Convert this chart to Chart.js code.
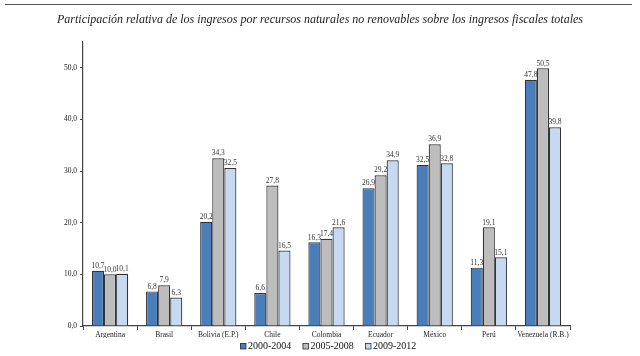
<!DOCTYPE html>
<html><head><meta charset="utf-8">
<script src="https://cdn.jsdelivr.net/npm/chart.js@4/dist/chart.umd.min.js"></script>
<style>html,body{margin:0;padding:0;background:#fff}#w{width:640px;height:356px;position:relative}</style>
</head><body><div id="w"><canvas id="c"></canvas></div>
<script>
const categories = ["Argentina","Brasil","Bolivia (E.P.)","Chile","Colombia","Ecuador","México","Perú","Venezuela (R.B.)"];
const seriesNames = ["2000-2004","2005-2008","2009-2012"];
// bar heights as drawn
const values2000 = [10.7, 6.7, 20.2, 6.4, 16.2, 26.7, 31.2, 11.3, 47.7];
const values2005 = [10.0, 7.9, 32.5, 27.2, 16.9, 29.2, 35.2, 19.1, 49.9];
const values2009 = [10.1, 5.5, 30.6, 14.6, 19.1, 32.1, 31.5, 13.3, 38.5];
// printed labels
const labels2000 = ["10,7","6,8","20,2","6,6","16,3","26,9","32,5","11,3","47,8"];
const labels2005 = ["10,0","7,9","34,3","27,8","17,4","29,2","36,9","19,1","50,5"];
const labels2009 = ["10,1","6,3","32,5","16,5","21,6","34,9","32,8","15,1","39,8"];
const yTicks = [0,10,20,30,40,50];
const title = "Participación relativa de los ingresos por recursos naturales no renovables sobre los ingresos fiscales totales";

const colors = ["#4A7EBB","#BDBDBD","#C6D9F1"];
const allLabels = [labels2000, labels2005, labels2009];
const SERIF = '"Liberation Serif", serif';

const deco = {
  id:'deco',
  beforeDraw(chart){
    const ctx = chart.ctx;
    ctx.save();
    ctx.fillStyle='#fff'; ctx.fillRect(0,0,chart.width,chart.height);
    ctx.strokeStyle='#555'; ctx.lineWidth=1.2;
    ctx.beginPath(); ctx.moveTo(5,4.5); ctx.lineTo(632,4.5); ctx.stroke();
    ctx.fillStyle='#222';
    ctx.font='italic 12px ' + SERIF;
    ctx.textAlign='center'; ctx.textBaseline='middle';
    ctx.fillText(title, 320, 20);
    // legend
    ctx.font='10px ' + SERIF;
    ctx.textAlign='left';
    const items = chart.data.datasets.map(d=>({t:d.label,c:d.backgroundColor}));
    let x = 240; const y = 346;
    items.forEach(it=>{
      ctx.fillStyle=it.c; ctx.fillRect(x,y-3,6,6);
      ctx.strokeStyle='#333'; ctx.lineWidth=0.8; ctx.strokeRect(x+0.5,y-2.5,5.5,5.5);
      ctx.fillStyle='#111';
      ctx.fillText(it.t, x+8, y+0.5);
      x += 62.5;
    });
    ctx.restore();
  },
  afterDatasetsDraw(chart){
    const ctx = chart.ctx;
    ctx.save();
    ctx.font='7.5px ' + SERIF;
    ctx.fillStyle='#333'; ctx.textAlign='center'; ctx.textBaseline='bottom';
    chart.data.datasets.forEach((ds,i)=>{
      chart.getDatasetMeta(i).data.forEach((bar,j)=>{
        ctx.fillText(allLabels[i][j], bar.x, bar.y-1);
      });
    });
    ctx.restore();
  }
};

new Chart(document.getElementById('c'), {
  type:'bar',
  data:{
    labels:categories,
    datasets:[values2000,values2005,values2009].map((v,i)=>({
      label:seriesNames[i], data:v, backgroundColor:colors[i],
      borderColor:'#333', borderWidth:1.2, borderSkipped:'bottom',
      barPercentage:1.0, categoryPercentage:0.67
    }))
  },
  options:{
    responsive:true, maintainAspectRatio:false, animation:false,
    layout:{padding:{top:42,right:70,left:0,bottom:18}},
    plugins:{
      tooltip:{enabled:false},
      legend:{display:false},
      title:{display:false}
    },
    scales:{
      x:{
        grid:{display:true,drawOnChartArea:false,offset:true,tickLength:4,color:'#444'},
        border:{color:'#444',width:1.2},
        ticks:{color:'#222',font:{family:SERIF,size:7.5},padding:1,maxRotation:0,autoSkip:false},
        afterFit(s){s.height=12;}
      },
      y:{
        min:0,max:55,
        grid:{display:true,drawOnChartArea:false,tickLength:3,color:'#444'},
        border:{color:'#444',width:1.2},
        afterBuildTicks(s){s.ticks=yTicks.map(v=>({value:v}));},
        ticks:{color:'#222',font:{family:SERIF,size:7.5},padding:3,
          callback:v=>v.toFixed(1).replace('.',',')},
        afterFit(s){s.width=83;}
      }
    }
  },
  plugins:[deco]
});
</script></body></html>
